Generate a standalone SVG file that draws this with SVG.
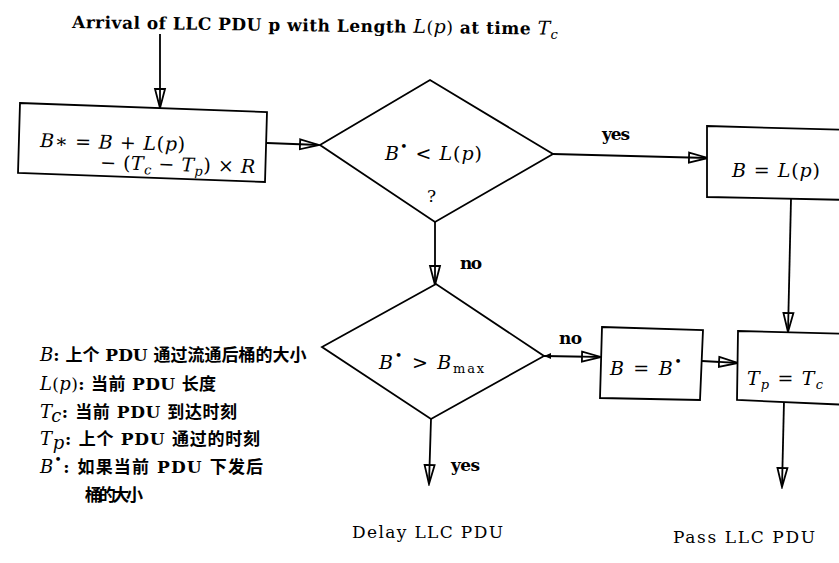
<svg xmlns="http://www.w3.org/2000/svg" width="839" height="563" viewBox="0 0 839 563">
<style>
.ln{stroke:#000;stroke-width:1.8;fill:none}
.sh{stroke:#000;stroke-width:1.8;fill:#fff;stroke-linejoin:miter}
.t{font-family:"DejaVu Serif","Noto Sans CJK SC",serif;font-size:17px;fill:#000}
.b{font-weight:bold}
.m{font-family:"DejaVu Serif",serif;font-style:italic;font-size:19px;fill:#000}
.r{font-style:normal}
.s{font-size:13px}
.cn{font-family:"DejaVu Serif","Noto Sans CJK SC",serif;font-size:17px;font-weight:bold;fill:#000}
.mi{font-style:italic;font-weight:normal;font-size:18px}
</style>
<defs>
<marker id="ah" markerUnits="userSpaceOnUse" markerWidth="22" markerHeight="14" refX="20" refY="7" orient="auto">
<path d="M1,2 L20,7 L1,12 Z" fill="#fff" stroke="#000" stroke-width="1.8"/>
<path d="M1,7 L20,7" stroke="#000" stroke-width="1.8"/>
</marker>
</defs>
<rect width="839" height="563" fill="#fff"/>

<g id="title">
<text class="t b" x="72" y="28" font-size="16" textLength="486" transform="rotate(0.8 72 28)">Arrival of LLC PDU p with Length <tspan class="m" font-weight="normal">L</tspan><tspan font-weight="normal">(</tspan><tspan class="m" font-weight="normal">p</tspan><tspan font-weight="normal">)</tspan> at time <tspan class="m" font-weight="normal">T</tspan><tspan class="m s" font-weight="normal" dy="4">c</tspan></text>
</g>

<g id="connectors">
<path class="ln" d="M160,34 L160,108" marker-end="url(#ah)"/>
<path class="ln" d="M267,143 L319,145" marker-end="url(#ah)"/>
<path class="ln" d="M553,154 L708,158" marker-end="url(#ah)"/>
<path class="ln" d="M435,222 L435,285" marker-end="url(#ah)"/>
<path class="ln" d="M791,199 L788,332" marker-end="url(#ah)"/>
<path class="ln" d="M544,356 L601,357" marker-end="url(#ah)"/>
<path d="M544,356 L551,353 L551,359 Z" fill="#000"/>
<path class="ln" d="M702,361 L738,363" marker-end="url(#ah)"/>
<path class="ln" d="M431,419 L429,484" marker-end="url(#ah)"/>
<path class="ln" d="M784,401 L782,487" marker-end="url(#ah)"/>
<text class="t b" x="602" y="140" textLength="28">yes</text>
<text class="t b" x="460" y="269" textLength="22">no</text>
<text class="t b" x="559" y="344" textLength="23">no</text>
<text class="t b" x="451" y="471" textLength="29">yes</text>
</g>

<g id="compute">
<polygon class="sh" points="20,103 267,112 265,182 18,173"/>
<text class="m" x="40" y="147" textLength="145" transform="rotate(1.5 40 147)">B∗<tspan class="r"> = </tspan>B<tspan class="r"> + </tspan>L<tspan class="r">(</tspan>p<tspan class="r">)</tspan></text>
<text class="m" x="100" y="169" textLength="155" transform="rotate(1.5 100 169)"><tspan class="r">− (</tspan>T<tspan class="s" dy="4">c</tspan><tspan class="r" dy="-4"> − </tspan>T<tspan class="s" dy="4">p</tspan><tspan class="r" dy="-4">) × </tspan>R</text>
</g>

<g id="decision1">
<polygon class="sh" points="320,145 430,80 553,154 435,222"/>
<text class="m" x="385" y="160" textLength="97">B<tspan class="r s" dy="-9">•</tspan><tspan class="r" dy="9"> &lt; </tspan>L<tspan class="r">(</tspan>p<tspan class="r">)</tspan></text>
<text class="t" x="427" y="202">?</text>
</g>

<g id="setL">
<polygon class="sh" points="707,126 850,130 850,200 707,197"/>
<text class="m" x="732" y="177" textLength="88">B<tspan class="r"> = </tspan>L<tspan class="r">(</tspan>p<tspan class="r">)</tspan></text>
</g>

<g id="decision2">
<polygon class="sh" points="322,347 436,284 544,356 431,419"/>
<text class="m" x="379" y="369" textLength="105">B<tspan class="r s" dy="-9">•</tspan><tspan class="r" dy="9"> &gt; </tspan>B<tspan class="r s" dy="4">max</tspan></text>
</g>

<g id="setB">
<polygon class="sh" points="602,327 703,330 700,400 600,398"/>
<text class="m" x="610" y="375" textLength="72">B<tspan class="r"> = </tspan>B<tspan class="r s" dy="-9">•</tspan></text>
</g>

<g id="setT">
<polygon class="sh" points="738,331 850,334 850,405 737,400"/>
<text class="m" x="747" y="385" textLength="76">T<tspan class="s" dy="4">p</tspan><tspan class="r" dy="-4"> = </tspan>T<tspan class="s" dy="4">c</tspan></text>
</g>

<g id="delay">
<text class="t" x="352" y="538" textLength="151">Delay LLC PDU</text>
</g>
<g id="pass">
<text class="t" x="673" y="543" textLength="142">Pass LLC PDU</text>
</g>

<g id="legend">
<text class="cn" x="40" y="361" font-size="16"><tspan class="mi">B</tspan>: 上个 PDU 通过流通后桶的大小</text>
<text class="cn" x="40" y="390" textLength="176"><tspan class="mi">L</tspan><tspan font-weight="normal">(</tspan><tspan class="mi">p</tspan><tspan font-weight="normal">)</tspan>: 当前 PDU 长度</text>
<text class="cn" x="40" y="418" textLength="197"><tspan class="mi">T</tspan><tspan class="mi s" dy="4">c</tspan><tspan dy="-4">: 当前 PDU 到达时刻</tspan></text>
<text class="cn" x="40" y="445" textLength="220"><tspan class="mi">T</tspan><tspan class="mi s" dy="4">p</tspan><tspan dy="-4">: 上个 PDU 通过的时刻</tspan></text>
<text class="cn" x="40" y="473" textLength="223"><tspan class="mi">B</tspan><tspan class="s" dy="-9" font-weight="normal">•</tspan><tspan dy="9">: 如果当前 PDU 下发后</tspan></text>
<text class="cn" x="85" y="501" textLength="58">桶的大小</text>
</g>
</svg>
